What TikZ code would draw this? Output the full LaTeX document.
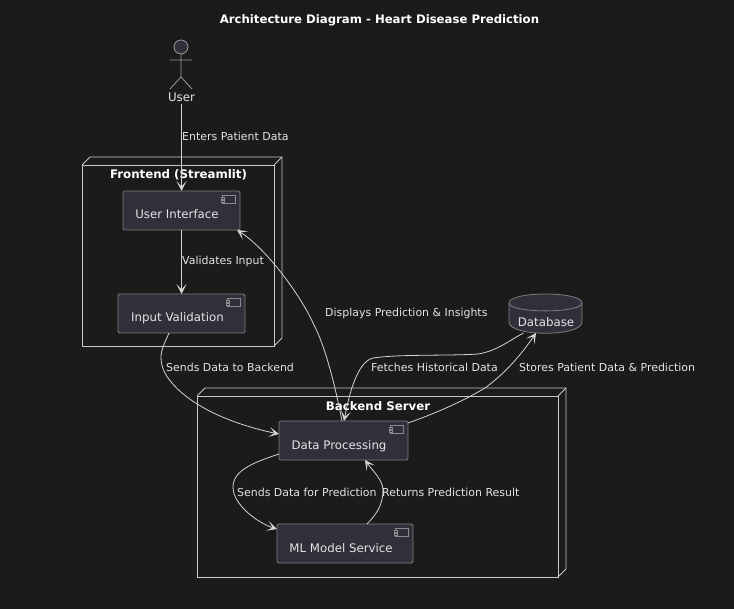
\documentclass[tikz,border=0pt]{standalone}
\usepackage{fontspec}
\setmainfont{DejaVu Sans}
\usetikzlibrary{arrows.meta,calc}
\definecolor{bgc}{HTML}{1B1B1B}
\definecolor{fillc}{HTML}{30303A}
\definecolor{edgec}{HTML}{7E7E7E}
\definecolor{framec}{HTML}{C8C8C8}
\definecolor{linec}{HTML}{D4D4D4}
\definecolor{textc}{HTML}{E4E4E4}
\newcommand\shifted[3]{\raisebox{-#2pt}[0pt][0pt]{\makebox[0pt][c]{\hspace*{#1pt}\hspace*{#1pt}#3}}}
\newcommand\compicon[1]{%
  \draw[icon] ($(#1.north east)+(-17.5,4)$) rectangle ($(#1.north east)+(-4.5,12)$);
  \draw[icon,fill=fillc] ($(#1.north east)+(-19,6)$) rectangle ($(#1.north east)+(-16,8)$);
  \draw[icon,fill=fillc] ($(#1.north east)+(-19,9)$) rectangle ($(#1.north east)+(-16,11)$);
}
\newcommand\nodeframe[1]{%
  \draw[frame] (#1.north west) -- ++(8,-8) -- ($(#1.north east)+(8,-8)$) -- ($(#1.south east)+(8,-8)$) -- (#1.south east);
  \draw[frame] (#1.north east) -- ++(8,-8);
}
\tikzset{
  x=1pt,y=-1pt,
  comp/.style={draw=edgec,fill=fillc,rounded corners=1.5pt,line width=0.8pt,inner sep=0pt,outer sep=0pt,text=textc,font=\fontsize{11.8}{13}\selectfont},
  icon/.style={draw=edgec!90!white,line width=0.6pt},
  frame/.style={draw=framec,line width=0.8pt},
  framebox/.style={frame,rectangle,inner sep=0pt,outer sep=0pt},
  titletext/.style={text=white,font=\fontsize{11.8}{13}\selectfont\bfseries,inner sep=0pt},
  edgelabel/.style={text=textc,font=\fontsize{10.95}{12}\selectfont,inner sep=0pt,anchor=west},
  conn/.style={draw=linec,line width=0.8pt,-{Stealth[length=10pt,width=10pt,inset=5.5pt,fill=linec]}},
  figure/.style={draw=edgec!80!white,line width=0.8pt},
  cyl/.style={draw=edgec,line width=0.8pt},
}
\begin{document}
\begin{tikzpicture}
\useasboundingbox[fill=bgc] (0,0) rectangle (734,609);
\node[text=white,font=\fontsize{11.7}{13}\selectfont\bfseries,inner sep=0pt] (title) at (379.5,20) {Architecture Diagram - Heart Disease Prediction};
% actor
\draw[figure,fill=fillc] (181,47) circle (7);
\draw[figure] (181,54) -- (181,77) (170,60) -- (192,60) (170,89) -- (181,77) -- (192,89);
\node[text=textc,font=\fontsize{11.8}{13}\selectfont,inner sep=0pt,minimum height=14pt,minimum width=30pt] (user) at (181.5,97) {User};
% frames
\node[framebox,minimum width=192pt,minimum height=181pt] (frontend) at (178,255.5) {};
\nodeframe{frontend}
\node[titletext] (frontendtitle) at (178.5,174.5) {Frontend (Streamlit)};
\node[framebox,minimum width=361pt,minimum height=181pt] (backend) at (377.5,486.5) {};
\nodeframe{backend}
\node[titletext] (backendtitle) at (378,406) {Backend Server};
% components
\node[comp,minimum width=117pt,minimum height=39pt] (ui) at (181.5,210.5) {\shifted{-4.5}{8}{User Interface}};
\node[comp,minimum width=127pt,minimum height=39pt] (iv) at (181.5,313.5) {\shifted{-4}{8}{Input Validation}};
\node[comp,minimum width=129pt,minimum height=39pt] (dp) at (343.5,440.5) {\shifted{-4.5}{9}{Data Processing}};
\node[comp,minimum width=136pt,minimum height=39pt] (ml) at (345,543.5) {\shifted{-4}{9}{ML Model Service}};
\compicon{ui}\compicon{iv}\compicon{dp}\compicon{ml}
% database
\node[inner sep=0pt,outer sep=0pt,minimum width=73pt,minimum height=39pt] (db) at (545.5,313.5) {};
\draw[cyl,fill=fillc] (509,303) .. controls (509,291) and (582,291) .. (582,303) -- (582,322) .. controls (582,337) and (509,337) .. (509,322) -- cycle;
\draw[cyl] (509,303) .. controls (509,313.5) and (582,313.5) .. (582,303);
\node[text=textc,font=\fontsize{11.8}{13}\selectfont,inner sep=0pt] (dblabel) at (546,322) {Database};
% connectors
\draw[conn] (user.south) -- (ui.north);
\draw[conn] (ui.south) -- (iv.north);
\draw[conn] ($(iv.south west)+(51,0)$) .. controls (165,342) and (161,350) .. (161,357) .. controls (161,367) and (165,375) .. (172,383) .. controls (195,410) and (240,426) .. (dp.west |- 0,434);
\draw[conn] ($(dp.north west)+(63,0)$) .. controls (335,385) and (325,345) .. (313,323) .. controls (302,298) and (268,250) .. ($(ui.south east)+(-3,0)$);
\draw[conn] ($(db.south west)+(14.5,0)$) .. controls (510,340) and (497,351) .. (478,354) .. controls (450,356) and (400,354) .. (373,358) .. controls (357,362) and (349,395) .. ($(dp.north west)+(65,0)$);
\draw[conn] ($(dp.north east)+(0,2)$) .. controls (445,410) and (470,397) .. (485,388) .. controls (507,372) and (523,352) .. ($(db.south west)+(27,0)$);
\draw[conn] ($(dp.south west)+(0,-6)$) .. controls (255,462) and (233,470) .. (233,487) .. controls (233,505) and (258,523) .. ($(ml.north west)+(0,5)$);
\draw[conn] ($(ml.north west)+(90,0)$) .. controls (376,515) and (383,505) .. (383,490) .. controls (383,480) and (372,470) .. ($(dp.south west)+(86,0)$);
% labels
\node[edgelabel] (l1) at (182,136) {Enters Patient Data};
\node[edgelabel] (l2) at (182,261.5) {Validates Input};
\node[edgelabel] (l3) at (325,313.5) {Displays Prediction \& Insights};
\node[edgelabel] (l4) at (166,367.5) {Sends Data to Backend};
\node[edgelabel] (l5) at (371,367.5) {Fetches Historical Data};
\node[edgelabel] (l6) at (519,367.5) {Stores Patient Data \& Prediction};
\node[edgelabel] (l7) at (237,492.5) {Sends Data for Prediction};
\node[edgelabel] (l8) at (382,492.5) {Returns Prediction Result};
\end{tikzpicture}
\end{document}
